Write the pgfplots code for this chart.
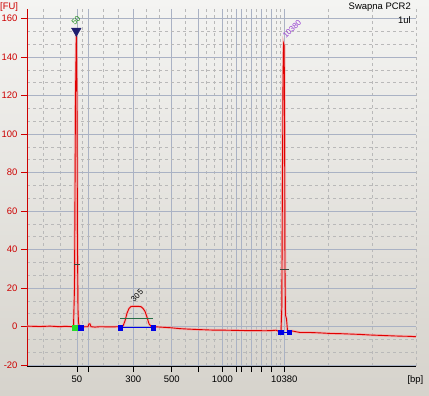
\documentclass[border=0pt]{standalone}
\usepackage{fontspec}
\setmainfont{Liberation Sans}
\usepackage{pgfplots}
\pgfplotsset{compat=1.18}
\definecolor{trace}{RGB}{224,0,0}
\definecolor{glow}{RGB}{245,165,165}
\definecolor{majgrid}{RGB}{170,178,196}
\definecolor{mingrid}{RGB}{185,185,185}
\definecolor{axred}{RGB}{205,0,0}
\definecolor{mkblue}{RGB}{0,0,230}
\definecolor{mkgreen}{RGB}{40,220,40}
\definecolor{hgreen}{RGB}{40,110,70}
\definecolor{navy}{RGB}{30,30,110}
\definecolor{purp}{RGB}{150,60,210}
\definecolor{lblgreen}{RGB}{30,140,30}
\definecolor{hhmark}{RGB}{60,70,60}
\definecolor{bgtop}{RGB}{244,244,242}
\definecolor{bgbot}{RGB}{214,211,204}
\begin{document}
\begin{tikzpicture}
\useasboundingbox (0,0) rectangle (429bp,396bp);
\shade[top color=bgtop, bottom color=bgbot] (0,0) rectangle (429bp,396bp);
\begin{axis}[
  at={(27bp,30bp)}, anchor=south west, scale only axis,
  width=389bp, height=357bp,
  xmin=27, xmax=416, ymin=-20.4, ymax=165,
  axis lines*=left,
  x axis line style={black, line width=0.9bp},
  y axis line style={axred, line width=0.9bp},
  tick align=outside, major tick length=6bp, minor tick length=0pt,
  xtick={77,88.3,133.3,171.7,198.3,222.3,236,241.3,251.7,261.7,271.3,284.3},
  xticklabels={50,,300,500,,1000,,,,,,10380},
  minor xtick={43.7,60.3,82.3,103.3,118.3,146.1,158.9,185,206.3,214.3,226.9,231.4,246.5,256.7,266.5,276,280,328.2,372.1,416},
  ytick={-20,0,20,40,60,80,100,120,140,160},
  minor ytick={-13.33,-6.67,6.67,13.33,26.67,33.33,46.67,53.33,66.67,73.33,86.67,93.33,106.67,113.33,126.67,133.33,146.67,153.33},
  xtick style={black, line width=0.8bp},
  ytick style={axred, line width=0.8bp},
  grid=both,
  major grid style={majgrid, line width=0.8bp, solid},
  minor grid style={mingrid, line width=0.8bp, dash pattern=on 3bp off 3bp},
  tick label style={font=\fontsize{9.5}{10}\selectfont},
  yticklabel style={text=axred},
  /pgf/number format/assume math mode=true,
]
% trace glow
\addplot[glow, line width=2.6bp, opacity=0.7] table {
x y
27 0.3
40 0.1
50 0.3
60 0
65 0.2
73.5 0
74.5 20
75.5 120
76.3 151.5
77 120
77.5 40
78 9
78.5 2
79.5 0
81 -0.3
85 0
88 0
89 1.5
90 1.5
91 0
95 -0.2
100 0
110 -0.1
120 0
123 0.3
125 3
127 7
129 9.5
131 10.5
134 10.6
138 10.6
141 10.4
143 9.5
145 8
147 5
149 1.5
151 0.2
155 0
160 -0.2
170 -0.5
180 -1
187 -1.2
195 -1.4
205 -1.6
215 -1.8
225 -1.8
235 -1.9
245 -2
255 -2
265 -2.1
272 -2
276 -1.8
279 -2.5
281 -2.3
281.8 10
282.5 80
283 130
283.6 147
284.2 146
284.6 100
285 30
285.5 6
286.5 4
287.5 -2
290 -2.4
292 -2.2
296 -2.6
300 -3
310 -3
320 -3.2
330 -3.5
340 -3.6
350 -3.8
360 -4
370 -4.3
380 -4.5
390 -4.7
400 -4.9
410 -5
416 -5.2
};
\addplot[trace, line width=0.9bp] table {
x y
27 0.3
40 0.1
50 0.3
60 0
65 0.2
73.5 0
74.5 20
75.5 120
76.3 151.5
77 120
77.5 40
78 9
78.5 2
79.5 0
81 -0.3
85 0
88 0
89 1.5
90 1.5
91 0
95 -0.2
100 0
110 -0.1
120 0
123 0.3
125 3
127 7
129 9.5
131 10.5
134 10.6
138 10.6
141 10.4
143 9.5
145 8
147 5
149 1.5
151 0.2
155 0
160 -0.2
170 -0.5
180 -1
187 -1.2
195 -1.4
205 -1.6
215 -1.8
225 -1.8
235 -1.9
245 -2
255 -2
265 -2.1
272 -2
276 -1.8
279 -2.5
281 -2.3
281.8 10
282.5 80
283 130
283.6 147
284.2 146
284.6 100
285 30
285.5 6
286.5 4
287.5 -2
290 -2.4
292 -2.2
296 -2.6
300 -3
310 -3
320 -3.2
330 -3.5
340 -3.6
350 -3.8
360 -4
370 -4.3
380 -4.5
390 -4.7
400 -4.9
410 -5
416 -5.2
};
% half-height marks
\addplot[hhmark, line width=0.8bp] coordinates {(74,32.6) (80,32.6)};
\addplot[hhmark, line width=0.8bp] coordinates {(279.5,29.8) (289,29.8)};
% baselines
\addplot[hgreen, line width=0.9bp] coordinates {(120,4.4) (152.7,4.4)};
\addplot[mkblue, line width=0.9bp] coordinates {(120,-0.5) (153.3,-0.5)};
\addplot[mkblue, line width=0.9bp] coordinates {(280.7,-2.9) (289.3,-2.9)};
\addplot[mkblue, line width=0.9bp] coordinates {(74.5,-0.5) (80.7,-0.5)};
% markers
\addplot[only marks, mark=square*, mark size=2.3bp, mark options={fill=mkblue, draw=mkblue}] coordinates {(80.7,-0.5) (120,-0.5) (153.3,-0.5) (280.7,-2.9) (289.3,-2.9)};
\addplot[only marks, mark=square*, mark size=2.3bp, mark options={fill=mkgreen, draw=mkgreen}] coordinates {(74.5,-0.5)};
\addplot[only marks, mark=triangle*, mark size=5.5bp, mark options={rotate=180, fill=navy, draw=navy}] coordinates {(76.3,153.6)};
% peak labels
\node[rotate=45, text=lblgreen, inner sep=0, font=\fontsize{8}{8}\selectfont] at (axis cs:76,159) {50};
\node[rotate=45, text=black, inner sep=0, font=\fontsize{8}{8}\selectfont] at (axis cs:137,16.2) {305};
\node[rotate=45, text=purp, inner sep=0, font=\fontsize{8}{8}\selectfont] at (axis cs:292,154.6) {10380};
\end{axis}
\node[anchor=east, inner sep=0, font=\fontsize{9.5}{10}\selectfont] at (411bp,389bp) {Swapna PCR2};
\node[anchor=east, inner sep=0, font=\fontsize{9.5}{10}\selectfont] at (411bp,376bp) {1ul};
\node[anchor=west, inner sep=0, text=axred, font=\fontsize{9.5}{10}\selectfont] at (0bp,388.5bp) {[FU]};
\node[anchor=east, inner sep=0, font=\fontsize{9.5}{10}\selectfont] at (423.5bp,16bp) {[bp]};
\end{tikzpicture}
\end{document}
